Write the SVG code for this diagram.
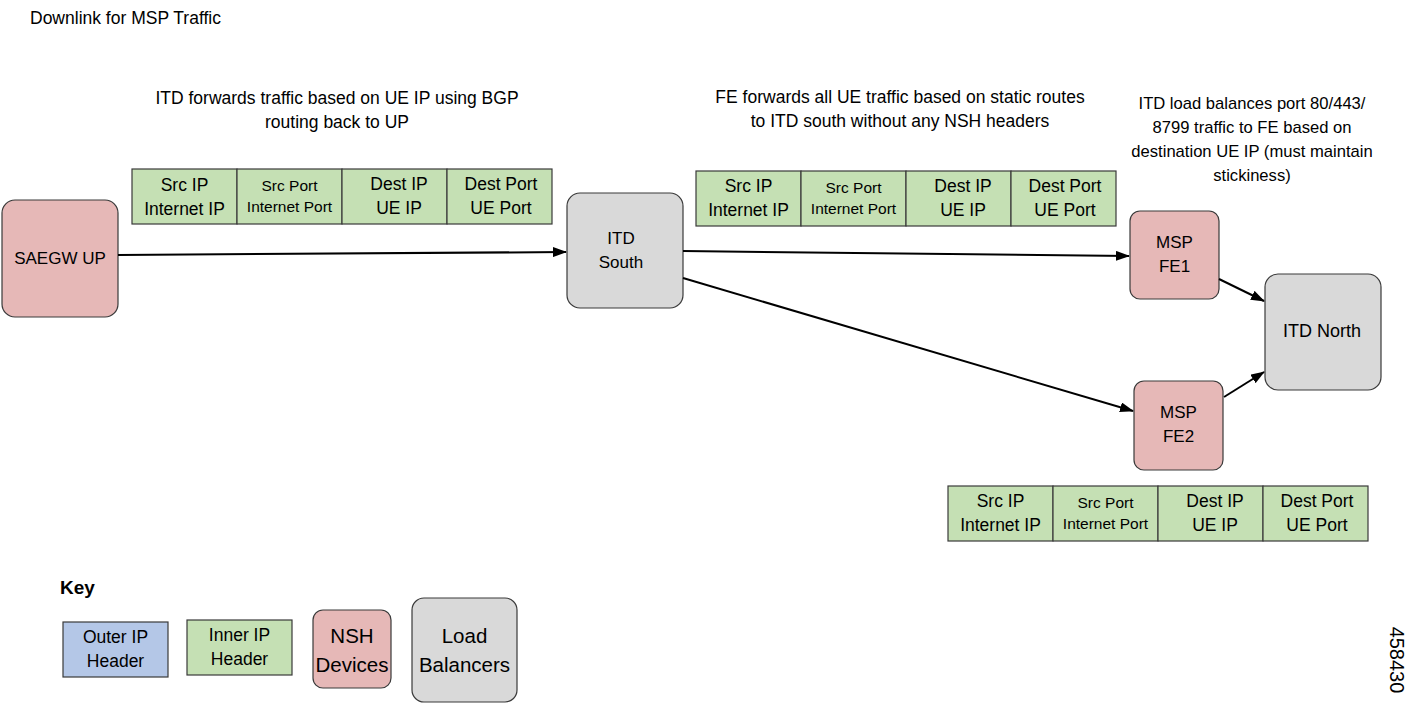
<svg xmlns="http://www.w3.org/2000/svg" width="1420" height="708" viewBox="0 0 1420 708">
<defs>
<marker id="ah" markerWidth="14" markerHeight="10" refX="13" refY="5" orient="auto" markerUnits="userSpaceOnUse">
<path d="M0,0 L14,5 L0,10 Z" fill="#000"/>
</marker>
<style>
text{font-family:"Liberation Sans",Arial,sans-serif;fill:#000;}
.t{font-size:17.5px;text-anchor:middle;}
.t3{font-size:16.6px;text-anchor:middle;}
.c{font-size:17.5px;text-anchor:middle;}
.s{font-size:15.5px;text-anchor:middle;}
.n{font-size:17px;text-anchor:middle;}
.g{fill:#c5e0b4;stroke:#3a3a3a;stroke-width:1.2;}
.p{fill:#e6b8b7;stroke:#3a3a3a;stroke-width:1.2;}
.y{fill:#d9d9d9;stroke:#3a3a3a;stroke-width:1.2;}
.b{fill:#b4c7e7;stroke:#3a3a3a;stroke-width:1.2;}
.e{stroke:#000;stroke-width:2;fill:none;marker-end:url(#ah);}
.k{font-size:20.5px;text-anchor:middle;}
</style>
</defs>
<rect width="1420" height="708" fill="#fff"/>
<text x="30" y="24" style="font-size:17.5px">Downlink for MSP Traffic</text>

<g id="notes">
<text class="t" x="337" y="104">ITD forwards traffic based on UE IP using BGP</text>
<text class="t" x="337" y="128">routing back to UP</text>
<text class="t" x="900" y="103">FE forwards all UE traffic based on static routes</text>
<text class="t" x="900" y="127">to ITD south without any NSH headers</text>
<text class="t3" x="1252" y="109">ITD load balances port 80/443/</text>
<text class="t3" x="1252" y="133">8799 traffic to FE based on</text>
<text class="t3" x="1252" y="157">destination UE IP (must maintain</text>
<text class="t3" x="1252" y="181">stickiness)</text>
</g>

<g id="header1">
<rect class="g" x="132" y="169" width="105" height="55"/>
<rect class="g" x="237" y="169" width="105" height="55"/>
<rect class="g" x="342" y="169" width="105" height="55"/>
<rect class="g" x="447" y="169" width="105" height="55"/>
<text class="c" x="184.5" y="191">Src IP</text><text class="c" x="184.5" y="215">Internet IP</text>
<text class="s" x="289.5" y="191">Src Port</text><text class="s" x="289.5" y="212">Internet Port</text>
<text class="c" x="399" y="190">Dest IP</text><text class="c" x="399" y="214">UE IP</text>
<text class="c" x="501" y="190">Dest Port</text><text class="c" x="501" y="214">UE Port</text>
</g>

<g id="header2">
<rect class="g" x="696" y="171" width="105" height="55"/>
<rect class="g" x="801" y="171" width="105" height="55"/>
<rect class="g" x="906" y="171" width="105" height="55"/>
<rect class="g" x="1011" y="171" width="105" height="55"/>
<text class="c" x="748.5" y="192">Src IP</text><text class="c" x="748.5" y="216">Internet IP</text>
<text class="s" x="853.5" y="193">Src Port</text><text class="s" x="853.5" y="214">Internet Port</text>
<text class="c" x="963" y="192">Dest IP</text><text class="c" x="963" y="216">UE IP</text>
<text class="c" x="1065" y="192">Dest Port</text><text class="c" x="1065" y="216">UE Port</text>
</g>

<g id="header3">
<rect class="g" x="948" y="486" width="105" height="55"/>
<rect class="g" x="1053" y="486" width="105" height="55"/>
<rect class="g" x="1158" y="486" width="105" height="55"/>
<rect class="g" x="1263" y="486" width="105" height="55"/>
<text class="c" x="1000.5" y="507">Src IP</text><text class="c" x="1000.5" y="531">Internet IP</text>
<text class="s" x="1105.5" y="508">Src Port</text><text class="s" x="1105.5" y="529">Internet Port</text>
<text class="c" x="1215" y="507">Dest IP</text><text class="c" x="1215" y="531">UE IP</text>
<text class="c" x="1317" y="507">Dest Port</text><text class="c" x="1317" y="531">UE Port</text>
</g>

<g id="saegw">
<rect class="p" x="2" y="200" width="116" height="117" rx="13"/>
<text class="n" x="60" y="264">SAEGW UP</text>
</g>
<g id="itd-south">
<rect class="y" x="567" y="193" width="116" height="115" rx="13"/>
<text class="n" x="621" y="244">ITD</text>
<text class="n" x="621" y="268">South</text>
</g>
<g id="fe1">
<rect class="p" x="1130" y="211" width="89" height="88" rx="10"/>
<text class="n" x="1174.5" y="248">MSP</text>
<text class="n" x="1174.5" y="272">FE1</text>
</g>
<g id="fe2">
<rect class="p" x="1134" y="381" width="89" height="89" rx="10"/>
<text class="n" x="1178.5" y="418">MSP</text>
<text class="n" x="1178.5" y="442">FE2</text>
</g>
<g id="itd-north">
<rect class="y" x="1265" y="274" width="116" height="116" rx="13"/>
<text x="1322" y="337" style="font-size:18px;text-anchor:middle">ITD North</text>
</g>

<g id="connectors">
<line class="e" x1="118" y1="255" x2="566" y2="252"/>
<line class="e" x1="683" y1="251" x2="1129" y2="256"/>
<line class="e" x1="683" y1="278" x2="1133" y2="411"/>
<line class="e" x1="1219" y1="279" x2="1264" y2="301"/>
<line class="e" x1="1224" y1="397" x2="1264" y2="372"/>
</g>

<g id="key">
<text x="60" y="594" style="font-size:19px;font-weight:bold">Key</text>
<g id="key-outer">
<rect class="b" x="63" y="622" width="105" height="55"/>
<text class="c" x="115.5" y="643">Outer IP</text><text class="c" x="115.5" y="667">Header</text>
</g>
<g id="key-inner">
<rect class="g" x="187" y="620" width="105" height="55"/>
<text class="c" x="239.5" y="641">Inner IP</text><text class="c" x="239.5" y="665">Header</text>
</g>
<g id="key-nsh">
<rect class="p" x="313" y="610" width="78" height="78" rx="10"/>
<text class="k" x="352" y="643">NSH</text>
<text class="k" x="352" y="672">Devices</text>
</g>
<g id="key-lb">
<rect class="y" x="412" y="598" width="105" height="104" rx="12"/>
<text class="k" x="464.5" y="643">Load</text>
<text class="k" x="464.5" y="672">Balancers</text>
</g>
</g>

<text x="1390" y="660" transform="rotate(90 1390 660)" style="font-size:20px;text-anchor:middle">458430</text>
</svg>
